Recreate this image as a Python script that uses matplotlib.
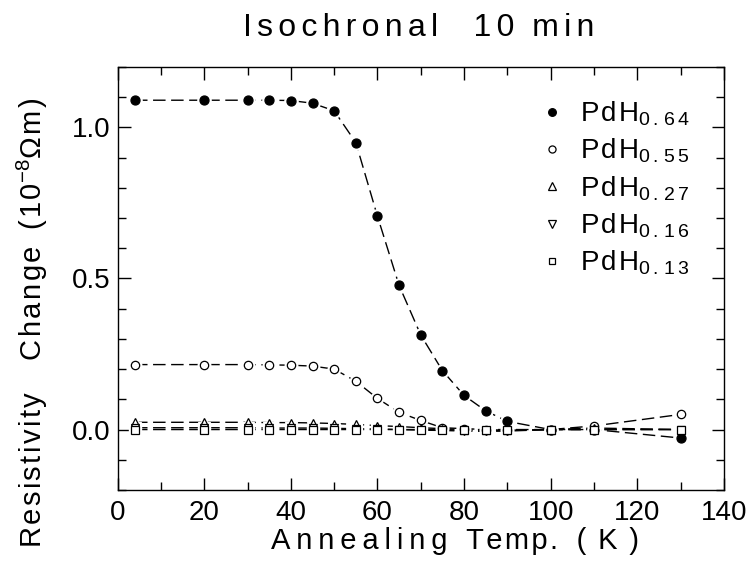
import matplotlib
matplotlib.use("Agg")
import matplotlib.pyplot as plt
from matplotlib.lines import Line2D
from matplotlib import font_manager as fm

names = {f.name for f in fm.fontManager.ttflist}
FAM = "Liberation Sans" if "Liberation Sans" in names else "DejaVu Sans"

plt.rcParams["font.family"] = [FAM, "DejaVu Sans"]
plt.rcParams["mathtext.fontset"] = "custom"
plt.rcParams["mathtext.rm"] = FAM
plt.rcParams["mathtext.it"] = FAM
plt.rcParams["mathtext.bf"] = FAM

HS = "\u200a"
TS = "\u2009"


def track(s, sp=TS):
    return sp.join(s)


# ---- data ----
temps = [4, 20, 30, 35, 40, 45, 50, 55, 60, 65, 70, 75, 80, 85, 90, 100, 110, 130]
r_064 = [1.09, 1.09, 1.09, 1.09, 1.089, 1.08, 1.055, 0.95, 0.706, 0.477, 0.313, 0.195,
         0.113, 0.062, 0.027, 0.0, 0.0, -0.028]
r_055 = [0.215, 0.215, 0.215, 0.214, 0.213, 0.21, 0.2, 0.16, 0.103, 0.057, 0.03, 0.006,
         0.003, 0.0, 0.0, 0.0, 0.012, 0.05]
r_027 = [0.024, 0.024, 0.024, 0.023, 0.023, 0.022, 0.02, 0.017, 0.013, 0.01, 0.006, 0.003,
         0.0, 0.0, -0.003, 0.0, 0.005, 0.0]
r_016 = [0.006, 0.006, 0.006, 0.005, 0.005, 0.005, 0.004, 0.003, 0.002, 0.0, -0.002, -0.003,
         -0.005, -0.006, -0.005, 0.0, 0.0, 0.0]
r_013 = [0.0, 0.0, 0.0, 0.0, 0.0, 0.0, 0.0, 0.0, 0.0, 0.0, 0.0, 0.0,
         -0.002, -0.003, -0.003, 0.0, 0.0, 0.0]
subs = ["0.64", "0.55", "0.27", "0.16", "0.13"]
series = [r_064, r_055, r_027, r_016, r_013]
markers = ["o", "o", "^", "v", "s"]
fills = ["black", "white", "white", "white", "white"]
msizes = [6.5, 6, 6, 6, 5.5]

fig = plt.figure(figsize=(7.52, 5.71), dpi=100)
ax = fig.add_axes([0.1565, 0.1419, 0.806, 0.7408])

for ys, m, fc, ms in zip(series, markers, fills, msizes):
    ax.plot(temps, ys, color="black", lw=1.0, dashes=(9, 4), zorder=2)
    ax.plot(temps, ys, ls="none", marker=m, ms=ms + 3, mfc="white", mec="white", zorder=2.5)
for ys, m, fc, ms in zip(series, markers, fills, msizes):
    ax.plot(temps, ys, ls="none", marker=m, ms=ms, mfc=fc, mec="black", mew=0.9, zorder=3)

ax.set_xlim(0, 140)
ax.set_ylim(-0.2, 1.2)
ax.set_xticks(range(0, 141, 20))
ax.set_xticks(range(0, 141, 10), minor=True)
ax.set_yticks([0.0, 0.5, 1.0])
ax.set_yticks([i / 10 for i in range(-2, 13)], minor=True)
ax.set_yticklabels(["0.0", "0.5", "1.0"])
ax.tick_params(which="both", direction="in", top=True, right=True, width=1.0)
ax.tick_params(which="major", length=9, labelsize=20)
ax.tick_params(axis="x", which="major", pad=7)
ax.tick_params(axis="y", which="major", pad=5)
ax.tick_params(which="minor", length=6)
for s in ax.spines.values():
    s.set_linewidth(1.0)

ax.set_xlabel(track("Annealing") + "  " + HS + track("Temp.", HS) + "  " + HS + "(" + TS + TS
              + "K" + TS + TS + ")", fontsize=21)
ax.xaxis.set_label_coords(0.557, -0.088)
ax.set_ylabel(track("Resistivity", HS) + "    " + track("Change", HS) + "  " + track("(10", HS)
              + "$^{-8}$" + track("Ωm)", HS), fontsize=21)
ax.yaxis.set_label_coords(-0.112, 0.395)
fig.text(0.557, 0.951, track("Isochronal", HS + HS) + "    " + track("10", HS + HS) + "  "
         + track("min", HS + HS), fontsize=23, ha="center", va="center")

handles = [Line2D([], [], ls="none", marker=m, ms=ms * 0.85, mfc=fc, mec="black", mew=0.9)
           for m, fc, ms in zip(markers, fills, msizes)]
labels = [track("PdH", HS) + "$_{" + "\\,".join(s) + "}$" for s in subs]
ax.legend(handles, labels, loc="upper left", bbox_to_anchor=(0.68, 0.95), frameon=False,
          fontsize=20, handlelength=0.8, handletextpad=0.6, labelspacing=0.32,
          borderaxespad=0)

fig.savefig("out.png", dpi=100)
